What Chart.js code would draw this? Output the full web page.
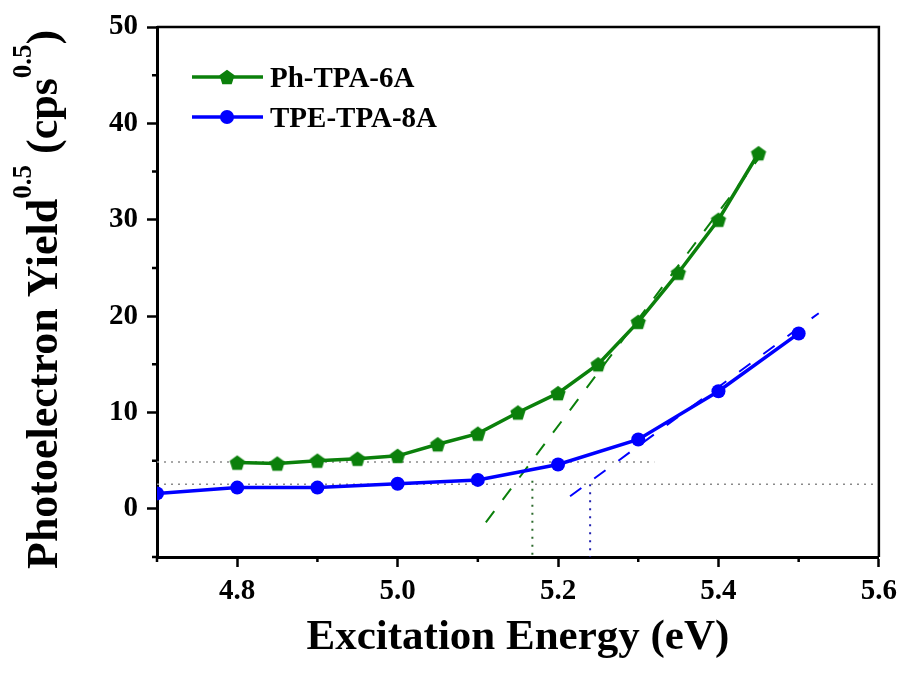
<!DOCTYPE html>
<html>
  <head>
    <meta charset="utf-8" />
    <title>Photoelectron Yield</title>
    <style>
      body { margin: 0; background: #fff; }
    </style>
  </head>
  <body>
    <canvas id="chart" width="904" height="673"></canvas>
    <script src="https://cdn.jsdelivr.net/npm/chart.js@4.4.0/dist/chart.umd.min.js"></script>
    <script>
      // measured data
      const energyGreen = [4.80, 4.85, 4.90, 4.95, 5.00, 5.05, 5.10, 5.15, 5.20, 5.25, 5.30, 5.35, 5.40, 5.45];
      const yieldGreen = [4.8, 4.7, 5.0, 5.2, 5.5, 6.7, 7.8, 10.0, 12.0, 15.0, 19.4, 24.5, 30.0, 36.9];
      const energyBlue = [4.7, 4.8, 4.9, 5.0, 5.1, 5.2, 5.3, 5.4, 5.5];
      const yieldBlue = [1.6, 2.2, 2.2, 2.6, 3.0, 4.6, 7.2, 12.2, 18.2];

      // linear fits + threshold guides
      const fitGreenX = [5.11, 5.465];
      const fitGreenY = [-1.4, 38.0];
      const fitBlueX = [5.215, 5.525];
      const fitBlueY = [1.3, 20.3];
      const baseGreenX = [4.7, 5.32];
      const baseGreenY = [4.85, 4.85];
      const baseBlueX = [4.7, 5.6];
      const baseBlueY = [2.56, 2.56];
      const onsetGreenX = [5.168, 5.168];
      const onsetGreenY = [2.9, -5];
      const onsetBlueX = [5.24, 5.24];
      const onsetBlueY = [2.56, -5];

      const seriesNames = ["Ph-TPA-6A", "TPE-TPA-8A"];
      const xTitle = "Excitation Energy (eV)";

      const GREEN = "#0b800b";
      const BLUE = "#0000ff";
      const FONT = "'Liberation Serif', 'Times New Roman', serif";

      function pts(xs, ys) {
        return xs.map((x, i) => ({ x: x, y: ys[i] }));
      }

      function pentagon(r, color) {
        const c = document.createElement("canvas");
        c.width = r * 2 + 2;
        c.height = r * 2 + 2;
        const g = c.getContext("2d");
        g.fillStyle = color;
        g.beginPath();
        for (let i = 0; i < 5; i++) {
          const a = -Math.PI / 2 + (i * 2 * Math.PI) / 5;
          const px = r + 1 + r * Math.cos(a);
          const py = r + 1 + r * Math.sin(a) + 0.8;
          if (i == 0) g.moveTo(px, py);
          else g.lineTo(px, py);
        }
        g.closePath();
        g.fill();
        return c;
      }
      const greenMarker = pentagon(8, GREEN);

      function guide(xs, ys, color, dash, width) {
        return {
          data: pts(xs, ys),
          showLine: true,
          borderColor: color,
          borderWidth: width,
          borderDash: dash,
          pointRadius: 0,
          fill: false,
        };
      }

      const isMinorX = (v) => Math.round(v * 10) % 2 !== 0;
      const isMinorY = (v) => Math.round(v) % 10 !== 0;

      const frame = {
        id: "frame",
        afterDraw(chart) {
          const ctx = chart.ctx;
          const a = chart.chartArea;
          const xs = chart.scales.x;
          const ys = chart.scales.y;
          ctx.save();
          ctx.strokeStyle = "#000";
          ctx.lineWidth = 2.5;
          ctx.beginPath();
          ctx.moveTo(a.left, a.top);
          ctx.lineTo(a.right, a.top);
          ctx.lineTo(a.right, a.bottom);
          ctx.stroke();

          // short minor ticks
          ctx.lineWidth = 2.5;
          ctx.beginPath();
          xs.ticks.forEach((t) => {
            if (isMinorX(t.value)) {
              const px = xs.getPixelForValue(t.value);
              ctx.moveTo(px, a.bottom);
              ctx.lineTo(px, a.bottom + 5);
            }
          });
          ys.ticks.forEach((t) => {
            if (isMinorY(t.value)) {
              const py = ys.getPixelForValue(t.value);
              ctx.moveTo(a.left, py);
              ctx.lineTo(a.left - 5, py);
            }
          });
          ctx.stroke();

          // y title with superscripts
          ctx.fillStyle = "#000";
          ctx.translate(57, 569);
          ctx.rotate(-Math.PI / 2);
          ctx.textBaseline = "alphabetic";
          ctx.textAlign = "left";
          let x = 0;
          const parts = [
            ["Photoelectron Yield", 44, 0],
            ["0.5", 27, -26],
            [" (cps", 44, 0],
            ["0.5", 27, -26],
            [")", 44, 0],
          ];
          parts.forEach((p) => {
            ctx.font = "bold " + p[1] + "px " + FONT;
            ctx.fillText(p[0], x, p[2]);
            x += ctx.measureText(p[0]).width;
          });
          ctx.restore();

          // legend
          ctx.save();
          const rows = [
            { y: 77, color: GREEN, marker: "pent" },
            { y: 117, color: BLUE, marker: "circle" },
          ];
          rows.forEach((r, i) => {
            ctx.strokeStyle = r.color;
            ctx.lineWidth = 3.5;
            ctx.beginPath();
            ctx.moveTo(192, r.y);
            ctx.lineTo(263, r.y);
            ctx.stroke();
            if (r.marker == "pent") {
              ctx.drawImage(greenMarker, 227 - greenMarker.width / 2, r.y - greenMarker.height / 2);
            } else {
              ctx.fillStyle = r.color;
              ctx.beginPath();
              ctx.arc(227, r.y, 7, 0, Math.PI * 2);
              ctx.fill();
            }
            ctx.fillStyle = "#000";
            ctx.font = "bold 29px " + FONT;
            ctx.textBaseline = "alphabetic";
            ctx.fillText(seriesNames[i], 270, r.y + 10);
          });
          ctx.restore();
        },
      };

      const ctx = document.getElementById("chart").getContext("2d");
      const myChart = new Chart(ctx, {
        type: "scatter",
        data: {
          datasets: [
            {
              label: seriesNames[0],
              data: pts(energyGreen, yieldGreen),
              showLine: true,
              borderColor: GREEN,
              backgroundColor: GREEN,
              borderWidth: 3.5,
              pointStyle: greenMarker,
              pointRadius: 8,
            },
            {
              label: seriesNames[1],
              data: pts(energyBlue, yieldBlue),
              showLine: true,
              borderColor: BLUE,
              backgroundColor: BLUE,
              borderWidth: 3.5,
              pointStyle: "circle",
              pointRadius: 7,
              pointBorderWidth: 0,
            },
            guide(fitGreenX, fitGreenY, GREEN, [14, 14], 2),
            guide(fitBlueX, fitBlueY, BLUE, [14, 16], 2),
            guide(baseGreenX, baseGreenY, "#8a8a8a", [2, 5], 1.5),
            guide(baseBlueX, baseBlueY, "#8a8a8a", [2, 5], 1.5),
            guide(onsetGreenX, onsetGreenY, "#2e6b2e", [2, 6], 2),
            guide(onsetBlueX, onsetBlueY, "#2020b0", [2, 6], 2),
          ],
        },
        options: {
          responsive: false,
          animation: false,
          layout: { padding: { top: 27, right: 24, left: 0, bottom: 0 } },
          plugins: {
            legend: { display: false },
            tooltip: { enabled: false },
          },
          scales: {
            x: {
              type: "linear",
              min: 4.7,
              max: 5.6,
              afterFit: (s) => { s.height = 116; },
              afterBuildTicks: (s) => {
                s.ticks = [];
                for (let i = 47; i <= 56; i++) s.ticks.push({ value: i / 10 });
              },
              border: { color: "#000", width: 3 },
              grid: {
                drawOnChartArea: false,
                drawTicks: true,
                tickLength: 10,
                tickWidth: 2.5,
                tickColor: (c) => (isMinorX(c.tick.value) ? "rgba(0,0,0,0)" : "#000"),
              },
              ticks: {
                autoSkip: false,
                maxRotation: 0,
                padding: 7,
                color: "#000",
                font: { family: FONT, size: 29, weight: "bold" },
                callback: (v) => (isMinorX(v) ? "" : Number(v).toFixed(1)),
              },
              title: {
                display: true,
                text: xTitle,
                color: "#000",
                font: { family: FONT, size: 43, weight: "bold" },
                padding: { top: 0, bottom: 9 },
              },
            },
            y: {
              min: -5,
              max: 50,
              afterFit: (s) => { s.width = 157; },
              afterBuildTicks: (s) => {
                s.ticks = [];
                for (let v = -5; v <= 50; v += 5) s.ticks.push({ value: v });
              },
              border: { color: "#000", width: 3 },
              grid: {
                drawOnChartArea: false,
                drawTicks: true,
                tickLength: 10,
                tickWidth: 2.5,
                tickColor: (c) => (isMinorY(c.tick.value) ? "rgba(0,0,0,0)" : "#000"),
              },
              ticks: {
                autoSkip: false,
                padding: 9,
                color: "#000",
                font: { family: FONT, size: 29, weight: "bold" },
                callback: (v) => (isMinorY(v) ? "" : String(v)),
              },
            },
          },
        },
        plugins: [frame],
      });
    </script>
  </body>
</html>
